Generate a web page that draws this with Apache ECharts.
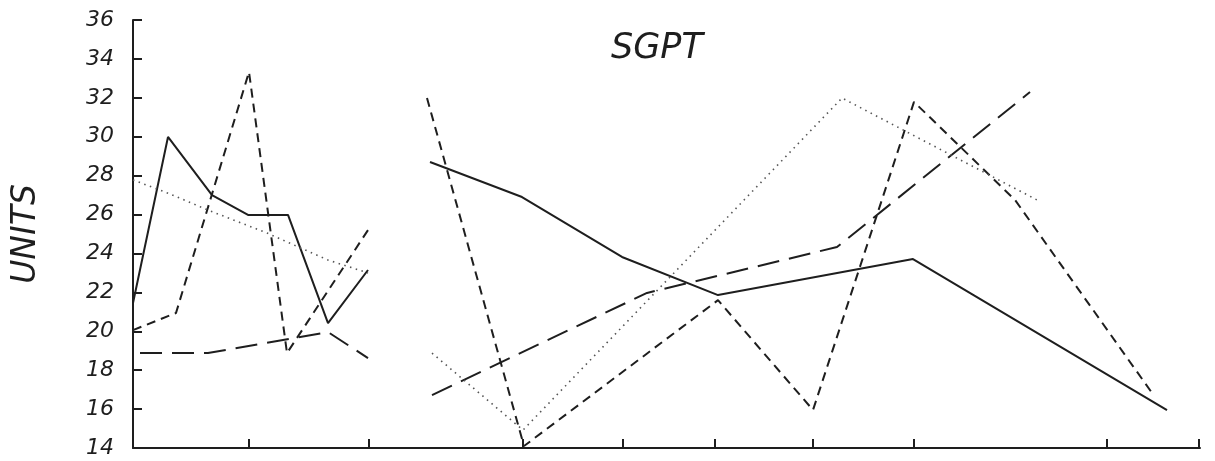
<!DOCTYPE html>
<html>
<head>
<meta charset="utf-8">
<script src="https://cdn.jsdelivr.net/npm/echarts@6/dist/echarts.min.js"></script>
<style>html,body{margin:0;padding:0;background:#fff}#c{width:1215px;height:461px}</style>
</head>
<body>
<div id="c"></div>
<script>
// Title and axis text
var titleText = "SGPT";
var yAxisName = "UNITS";
var yTicks = [14, 16, 18, 20, 22, 24, 26, 28, 30, 32, 34, 36];
// x positions of tick marks on the (unlabelled) time axis
var xTickPositions = [11.6, 23.6, 39, 49, 58.2, 68, 78.1, 97.4, 106.6];

// Left panel series (x, y)
var leftSolidX = [0, 3.5, 7.9, 11.5, 15.5, 19.5, 23.5];
var leftSolidY = [21.45, 29.99, 27.0, 25.98, 25.98, 20.42, 23.15];
var leftShortDashX = [0, 4.3, 11.6, 15.4, 23.5];
var leftShortDashY = [20.06, 20.94, 33.33, 18.88, 25.2];
var leftLongDashX = [0.7, 7.5, 19.5, 23.5];
var leftLongDashY = [18.88, 18.88, 19.96, 18.62];
var leftDottedX = [0, 3.5, 7.5, 13.4, 19.5, 23.5];
var leftDottedY = [27.78, 27.1, 26.23, 25.05, 23.66, 23.0];

// Right panel series (x, y)
var rightSolidX = [29.7, 38.9, 48.9, 58.5, 78, 103.4];
var rightSolidY = [28.7, 26.9, 23.82, 21.86, 23.71, 15.95];
var rightShortDashX = [29.4, 39.1, 58.5, 68, 78.1, 88.2, 101.9];
var rightShortDashY = [31.99, 14.1, 21.6, 15.95, 31.79, 26.75, 16.83];
var rightLongDashX = [29.9, 51.4, 70.4, 89.7];
var rightLongDashY = [16.72, 21.97, 24.33, 32.3];
var rightDottedX = [29.9, 39, 70.9, 90.4];
var rightDottedY = [18.88, 14.92, 31.99, 26.75];

function pairs(xs, ys) { return xs.map(function (x, i) { return [x, ys[i]]; }); }

var ink = '#1e1e1e';
var font = 'DejaVu Sans';
var styles = {
  solid: { color: ink, width: 2, type: 'solid' },
  shortDash: { color: ink, width: 2, type: [9, 6] },
  longDash: { color: ink, width: 2, type: [22, 10] },
  dotted: { color: '#555', width: 1.6, type: [1.5, 4.5] }
};
function mk(name, xs, ys, st) {
  return { name: name, type: 'line', data: pairs(xs, ys), symbol: 'none', silent: true,
    lineStyle: { color: st.color, width: st.width, type: st.type }, animation: false };
}

var chart = echarts.init(document.getElementById('c'));
chart.setOption({
  backgroundColor: '#fff',
  animation: false,
  title: {
    text: titleText, left: 606, top: 26,
    textStyle: { fontFamily: font, fontStyle: 'italic', fontWeight: 'normal', fontSize: 35, color: ink }
  },
  grid: { left: 133, right: 15, top: 20, bottom: 13 },
  xAxis: {
    type: 'value', min: 0, max: 106.7,
    axisLine: { show: true, onZero: false, lineStyle: { color: ink, width: 2 } },
    axisTick: { show: true, inside: true, length: 9, lineStyle: { color: ink, width: 2 }, customValues: xTickPositions },
    axisLabel: { show: false },
    splitLine: { show: false }
  },
  yAxis: {
    type: 'value', min: yTicks[0], max: yTicks[yTicks.length - 1], interval: 2,
    name: yAxisName, nameLocation: 'middle', nameGap: 90, nameRotate: 90,
    nameTextStyle: { fontFamily: font, fontStyle: 'italic', fontSize: 33, color: ink },
    axisLine: { show: true, lineStyle: { color: ink, width: 2 } },
    axisTick: { show: true, inside: true, length: 9, lineStyle: { color: ink, width: 2 } },
    axisLabel: { margin: 19, fontFamily: font, fontStyle: 'italic', fontSize: 22, color: ink },
    splitLine: { show: false }
  },
  series: [
    mk('L solid', leftSolidX, leftSolidY, styles.solid),
    mk('L short dash', leftShortDashX, leftShortDashY, styles.shortDash),
    mk('L long dash', leftLongDashX, leftLongDashY, styles.longDash),
    mk('L dotted', leftDottedX, leftDottedY, styles.dotted),
    mk('R solid', rightSolidX, rightSolidY, styles.solid),
    mk('R short dash', rightShortDashX, rightShortDashY, styles.shortDash),
    mk('R long dash', rightLongDashX, rightLongDashY, styles.longDash),
    mk('R dotted', rightDottedX, rightDottedY, styles.dotted)
  ]
});
</script>
</body>
</html>
